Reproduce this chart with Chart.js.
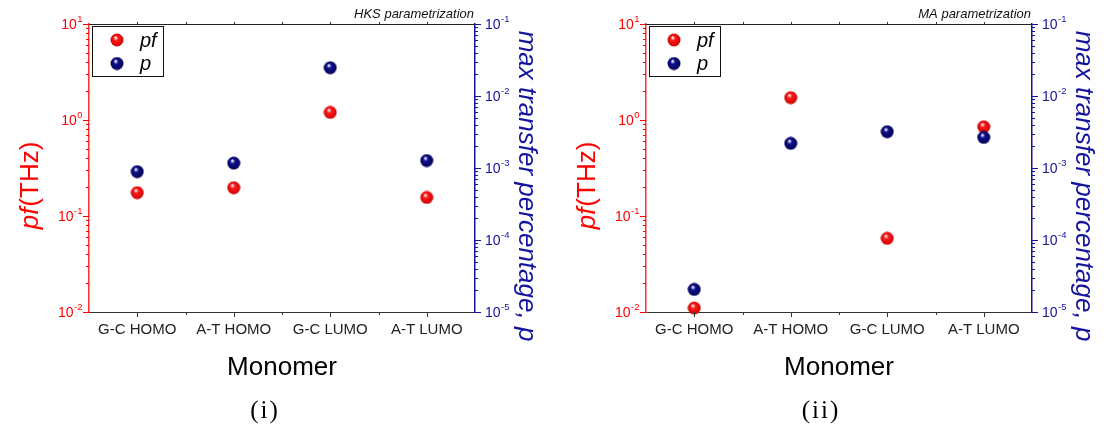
<!DOCTYPE html>
<html>
<head>
<meta charset="utf-8">
<script src="https://cdn.jsdelivr.net/npm/chart.js@4.4.1/dist/chart.umd.min.js"></script>
<style>
    body { margin: 0; background: #fff; }
    .panel { position: absolute; top: 0; width: 554px; height: 427px; }
</style>
</head>
<body>
<div class="panel" style="left:0"><canvas id="chartHKS" width="554" height="427"></canvas></div>
<div class="panel" style="left:554px"><canvas id="chartMA" width="554" height="427"></canvas></div>
<script>
const monomers = ['G-C HOMO', 'A-T HOMO', 'G-C LUMO', 'A-T LUMO'];

// HKS parametrization
const pfHKS = [0.175, 0.197, 1.2, 0.156];
const pHKS = [0.00089, 0.00117, 0.0247, 0.00127];

// MA parametrization
const pfMA = [0.011, 1.71, 0.0585, 0.85];
const pMA = [0.0000206, 0.0022, 0.00319, 0.00266];

const pfTicks = [0.01, 0.1, 1, 10];
const pTicks = [0.00001, 0.0001, 0.001, 0.01, 0.1];

const RED = '#ff0000';
const BLUE = '#14149e';

function makeSphere(base, dark) {
    const c = document.createElement('canvas');
    c.width = c.height = 14;
    const g = c.getContext('2d');
    const grad = g.createRadialGradient(5.5, 4.5, 0.4, 7, 7, 7);
    grad.addColorStop(0, '#ffffff');
    grad.addColorStop(0.3, base);
    grad.addColorStop(1, dark);
    g.fillStyle = grad;
    g.beginPath();
    g.arc(7, 7, 6.5, 0, Math.PI * 2);
    g.fill();
    return c;
}

const redBall = makeSphere('#ff1a1a', '#c80000');
const blueBall = makeSphere('#10108f', '#00004e');

function minorValues(decades) {
    const out = [];
    for (let i = 0; i < decades.length - 1; i++) {
        for (let k = 2; k <= 9; k++) out.push(decades[i] * k);
    }
    return out;
}

function drawPower(ctx, value, x, y, align) {
    const exp = Math.round(Math.log10(value));
    ctx.font = '14px "Liberation Sans", Arial, sans-serif';
    const wBase = ctx.measureText('10').width;
    ctx.font = '9.5px "Liberation Sans", Arial, sans-serif';
    const wExp = ctx.measureText(String(exp)).width;
    let start = align === 'right' ? x - wBase - wExp : x;
    ctx.textAlign = 'left';
    ctx.textBaseline = 'alphabetic';
    ctx.font = '14px "Liberation Sans", Arial, sans-serif';
    ctx.fillText('10', start, y + 5);
    ctx.font = '9.5px "Liberation Sans", Arial, sans-serif';
    ctx.fillText(String(exp), start + wBase + 0.5, y - 2.5);
}

const decorPlugin = {
    id: 'decor',
    afterDraw(chart, args, opts) {
        const ctx = chart.ctx;
        const area = chart.chartArea;
        const xs = chart.scales.x;
        const yl = chart.scales.y;
        const yr = chart.scales.y2;
        ctx.save();

        // top frame line
        ctx.strokeStyle = '#222';
        ctx.lineWidth = 1;
        ctx.beginPath();
        ctx.moveTo(area.left, area.top + 0.5);
        ctx.lineTo(area.right, area.top + 0.5);
        ctx.stroke();

        // bottom and top ticks
        ctx.strokeStyle = '#333';
        ctx.beginPath();
        monomers.forEach((m, i) => {
            const x = Math.round(xs.getPixelForValue(i)) + 0.5;
            ctx.moveTo(x, area.bottom); ctx.lineTo(x, area.bottom + 5);
            ctx.moveTo(x, area.top); ctx.lineTo(x, area.top - 2);
            if (i > 0) {
                const xm = Math.round((xs.getPixelForValue(i - 1) + xs.getPixelForValue(i)) / 2) + 0.5;
                ctx.moveTo(xm, area.bottom); ctx.lineTo(xm, area.bottom + 3);
                ctx.moveTo(xm, area.top); ctx.lineTo(xm, area.top - 2);
            }
        });
        ctx.stroke();

        // left axis ticks
        ctx.strokeStyle = RED;
        ctx.beginPath();
        pfTicks.forEach(v => {
            const y = Math.round(yl.getPixelForValue(v)) + 0.5;
            ctx.moveTo(area.left, y); ctx.lineTo(area.left - 6, y);
        });
        minorValues(pfTicks).forEach(v => {
            const y = Math.round(yl.getPixelForValue(v)) + 0.5;
            ctx.moveTo(area.left, y); ctx.lineTo(area.left - 3, y);
        });
        ctx.stroke();

        // right axis ticks
        ctx.strokeStyle = BLUE;
        ctx.beginPath();
        pTicks.forEach(v => {
            const y = Math.round(yr.getPixelForValue(v)) + 0.5;
            ctx.moveTo(area.right, y); ctx.lineTo(area.right + 6, y);
        });
        minorValues(pTicks).forEach(v => {
            const y = Math.round(yr.getPixelForValue(v)) + 0.5;
            ctx.moveTo(area.right, y); ctx.lineTo(area.right + 3, y);
        });
        ctx.stroke();

        // tick labels
        ctx.fillStyle = RED;
        pfTicks.forEach(v => drawPower(ctx, v, area.left - 7, yl.getPixelForValue(v), 'right'));
        ctx.fillStyle = BLUE;
        pTicks.forEach(v => drawPower(ctx, v, area.right + 10, yr.getPixelForValue(v), 'left'));

        // left title: pf(THz)
        const midY = 186;
        ctx.save();
        ctx.translate(area.left - 51, midY);
        ctx.rotate(-Math.PI / 2);
        ctx.fillStyle = RED;
        ctx.textBaseline = 'alphabetic';
        ctx.textAlign = 'left';
        ctx.font = 'italic 26px "Liberation Sans", Arial, sans-serif';
        const w1 = ctx.measureText('pf').width;
        ctx.font = '26px "Liberation Sans", Arial, sans-serif';
        const w2 = ctx.measureText('(THz)').width;
        const x0 = -(w1 + w2) / 2;
        ctx.font = 'italic 26px "Liberation Sans", Arial, sans-serif';
        ctx.fillText('pf', x0, 0);
        ctx.font = '26px "Liberation Sans", Arial, sans-serif';
        ctx.fillText('(THz)', x0 + w1 + 1, 0);
        ctx.restore();

        // right title
        ctx.save();
        ctx.translate(area.right + 44, midY);
        ctx.rotate(Math.PI / 2);
        ctx.fillStyle = BLUE;
        ctx.textAlign = 'center';
        ctx.textBaseline = 'alphabetic';
        ctx.font = 'italic 26px "Liberation Sans", Arial, sans-serif';
        ctx.fillText('max transfer percentage, p', 0, 0);
        ctx.restore();

        // x title
        ctx.fillStyle = '#000';
        ctx.textAlign = 'center';
        ctx.textBaseline = 'alphabetic';
        ctx.font = '26px "Liberation Sans", Arial, sans-serif';
        ctx.fillText('Monomer', (area.left + area.right) / 2, 375);

        // panel label
        ctx.font = '25px "Liberation Serif", "Times New Roman", serif';
        if ('letterSpacing' in ctx) ctx.letterSpacing = '2px';
        ctx.fillText(opts.panel, opts.panelX, 418);
        if ('letterSpacing' in ctx) ctx.letterSpacing = '0px';

        // parametrization tag
        ctx.textAlign = 'right';
        ctx.font = 'italic 13px "Liberation Sans", Arial, sans-serif';
        ctx.fillStyle = '#111';
        ctx.fillText(opts.tag, area.right - 1, 18);

        // legend
        const bx = area.left + 3.5, by = area.top + 2.5;
        ctx.strokeStyle = '#111';
        ctx.lineWidth = 1;
        ctx.strokeRect(bx, by, 71, 50);
        ctx.textAlign = 'left';
        ctx.textBaseline = 'middle';
        ctx.font = 'italic 20px "Liberation Sans", Arial, sans-serif';
        ctx.fillStyle = '#000';
        chart.data.datasets.forEach((ds, i) => {
            const ly = area.top + 16 + i * 23.5;
            ctx.drawImage(ds.pointStyle, area.left + 28 - 7, ly - 7);
            ctx.fillText(ds.label, area.left + 51, ly + 1);
        });

        ctx.restore();
    }
};

function buildChart(id, pf, p, tag, panel, panelX, leftW, rightW) {
    const ctx = document.getElementById(id).getContext('2d');
    return new Chart(ctx, {
        type: 'line',
        data: {
            labels: monomers,
            datasets: [
                { label: 'pf', data: pf, yAxisID: 'y', pointStyle: redBall, showLine: false, order: 1, clip: false },
                { label: 'p', data: p, yAxisID: 'y2', pointStyle: blueBall, showLine: false, order: 0, clip: false }
            ]
        },
        options: {
            responsive: false,
            animation: false,
            layout: { padding: { top: 24, left: 0, right: 0, bottom: 0 } },
            scales: {
                x: {
                    type: 'category',
                    offset: true,
                    grid: { display: false, drawTicks: false },
                    border: { display: true, color: '#333', width: 1 },
                    ticks: {
                        color: '#222',
                        padding: 9,
                        font: { family: '"Liberation Sans", Arial, sans-serif', size: 15 }
                    },
                    afterFit: s => { s.height = 427 - 312 - 24 + 24; }
                },
                y: {
                    type: 'logarithmic',
                    position: 'left',
                    min: pfTicks[0],
                    max: pfTicks[pfTicks.length - 1],
                    grid: { display: false, drawTicks: false },
                    border: { display: true, color: '#ff3030', width: 1.5 },
                    ticks: { display: false },
                    afterFit: s => { s.width = leftW; }
                },
                y2: {
                    type: 'logarithmic',
                    position: 'right',
                    min: pTicks[0],
                    max: pTicks[pTicks.length - 1],
                    grid: { display: false, drawTicks: false },
                    border: { display: true, color: BLUE, width: 1.5 },
                    ticks: { display: false },
                    afterFit: s => { s.width = rightW; }
                }
            },
            plugins: {
                legend: { display: false },
                tooltip: { enabled: false },
                decor: { tag: tag, panel: panel, panelX: panelX }
            }
        },
        plugins: [decorPlugin]
    });
}

buildChart('chartHKS', pfHKS, pHKS, 'HKS parametrization', '(i)', 265, 89, 554 - 475);
buildChart('chartMA', pfMA, pMA, 'MA parametrization', '(ii)', 267, 92, 554 - 478);
</script>
</body>
</html>
